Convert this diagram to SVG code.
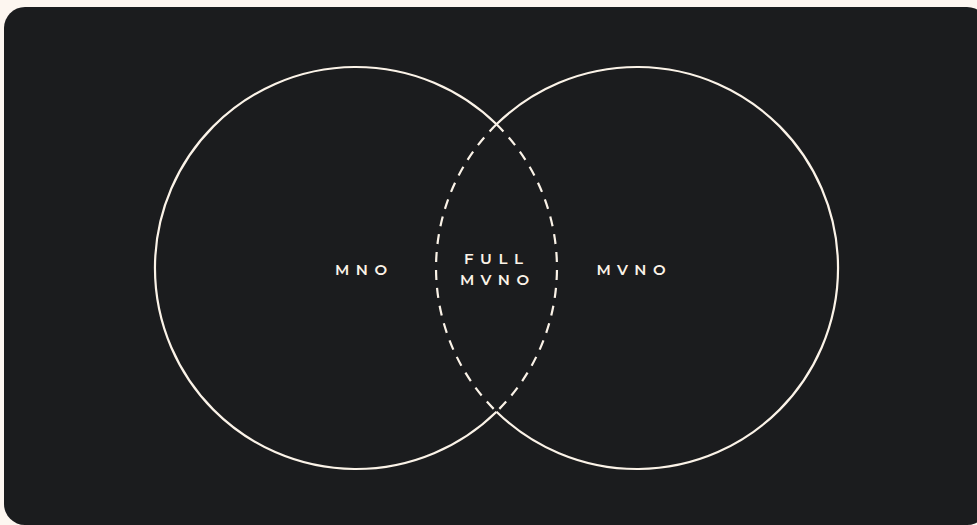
<svg xmlns="http://www.w3.org/2000/svg" width="977" height="525" viewBox="0 0 977 525">
<style>
.solid{fill:none;stroke:#fbf3e8;stroke-width:2.2}
.dash{fill:none;stroke:#fbf3e8;stroke-width:2.2;stroke-dasharray:10 8}
.lbl{font-family:"Montserrat","Inter","Liberation Sans",sans-serif;font-size:15px;font-weight:600;fill:#fbf3e8;letter-spacing:6.5px}
</style>
<rect width="977" height="525" fill="#fdf6f0"/>
<rect x="4" y="7" width="984" height="518" rx="21" fill="#1b1c1e"/>
<g id="connectors">
<path class="dash" d="M496.5 124.3 A201 201 0 0 1 496.5 411.7"/>
<path class="dash" d="M496.5 124.3 A201 201 0 0 0 496.5 411.7"/>
</g>
<g id="mno">
<path class="solid" d="M496.5 124.3 A201 201 0 1 0 496.5 411.7"/>
<text class="lbl" x="335" y="274.5">MNO</text>
</g>
<g id="mvno">
<path class="solid" d="M496.5 124.3 A201 201 0 1 1 496.5 411.7"/>
<text class="lbl" x="596.5" y="274.5">MVNO</text>
</g>
<g id="full-mvno">
<text class="lbl" x="464" y="264.2">FULL</text>
<text class="lbl" x="460" y="284.5">MVNO</text>
</g>
</svg>
